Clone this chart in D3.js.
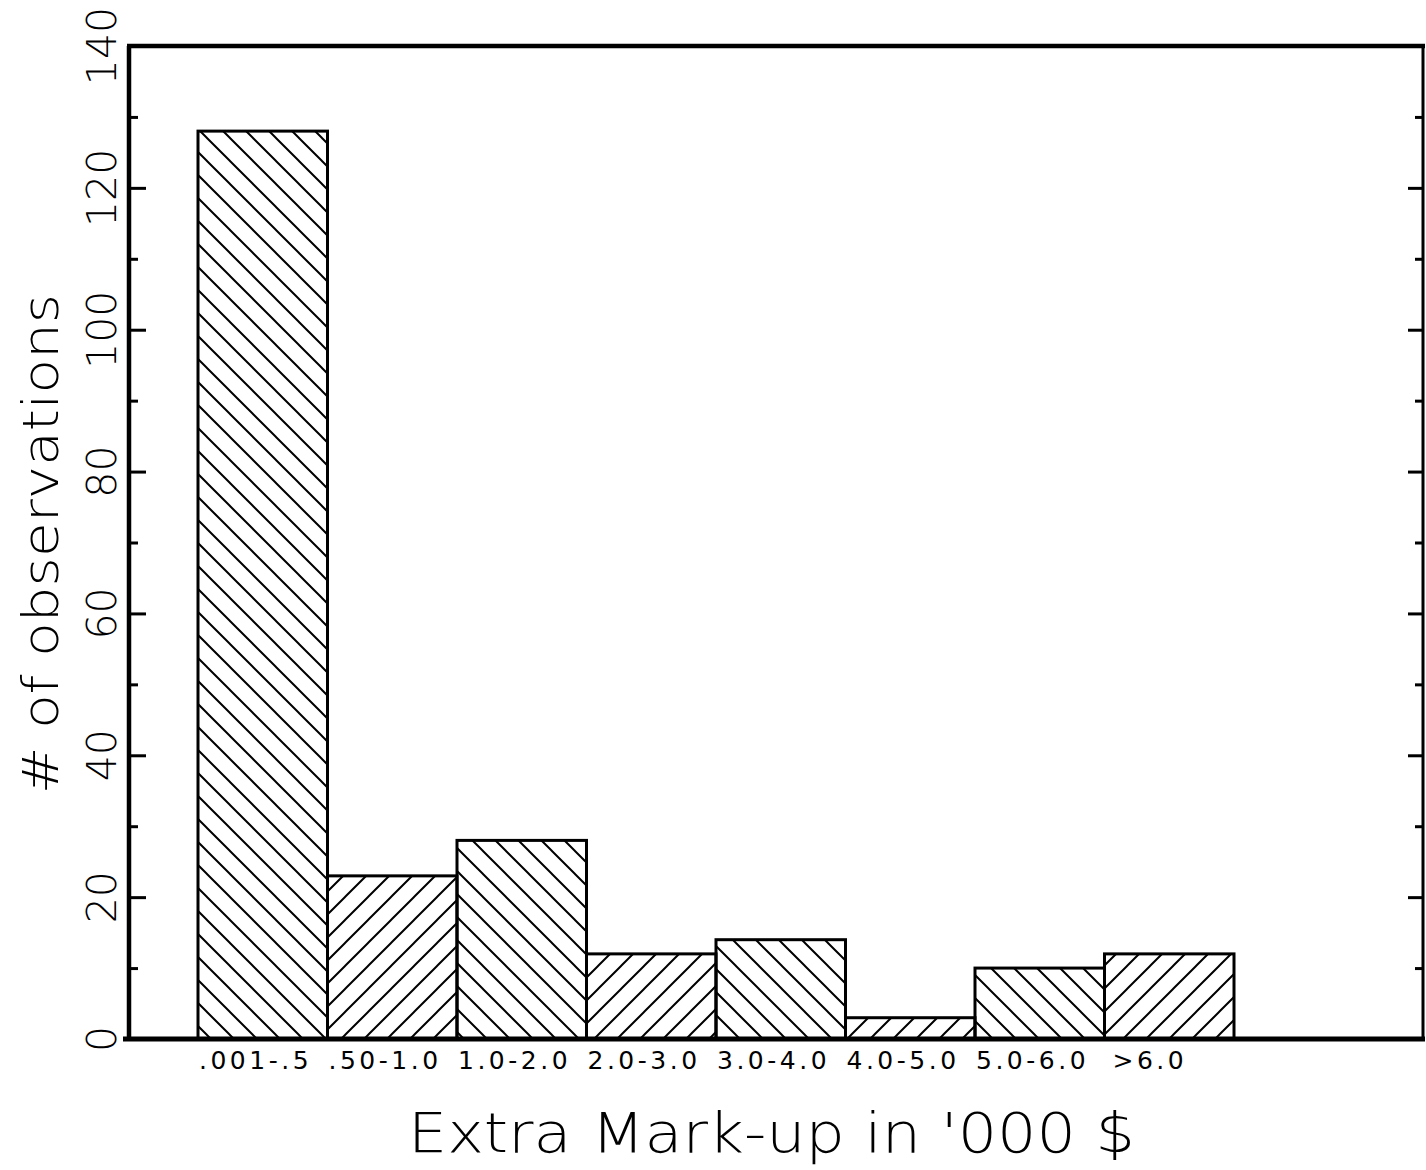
<!DOCTYPE html>
<html>
<head>
<meta charset="utf-8">
<script src="https://cdn.jsdelivr.net/npm/d3@7/dist/d3.min.js"></script>
<style>
  html, body { margin: 0; padding: 0; background: #fff; }
  svg { display: block; }
</style>
</head>
<body>
<svg id="chart" width="1426" height="1170"></svg>
<script>
// ---- data ----
const categories = [".001-.5", ".50-1.0", "1.0-2.0", "2.0-3.0", "3.0-4.0", "4.0-5.0", "5.0-6.0", ">6.0"];
const counts = [128, 23, 28, 12, 14, 3, 10, 12];
const hatchDirs = ["back", "fwd", "back", "fwd", "back", "fwd", "back", "fwd"];
const yMajorTicks = [0, 20, 40, 60, 80, 100, 120, 140];
const yMinorTicks = [10, 30, 50, 70, 90, 110, 130];
const xTitle = "Extra Mark-up in '000 $";
const yTitle = "# of observations";

// ---- layout ----
const W = 1426, H = 1170;
const frame = { left: 129, right: 1423, top: 46, bottom: 1039 };
const barStart = 198, barWidth = 129.5;

const svg = d3.select("#chart");
svg.append("rect").attr("width", W).attr("height", H).attr("fill", "#fff");

const x = d3.scaleBand()
  .domain(categories)
  .range([barStart, barStart + barWidth * categories.length])
  .padding(0);

const y = d3.scaleLinear()
  .domain([0, 140])
  .range([frame.bottom, frame.top]);

// ---- hatch patterns ----
const s = 23;
const defs = svg.append("defs");
function addPattern(id, dir) {
  const p = defs.append("pattern")
    .attr("id", id)
    .attr("patternUnits", "userSpaceOnUse")
    .attr("width", s).attr("height", s);
  let d;
  if (dir === "back") {
    d = `M0,0 L${s},${s} M${-s/4},${3*s/4} L${s/4},${5*s/4} M${3*s/4},${-s/4} L${5*s/4},${s/4}`;
  } else {
    d = `M0,${s} L${s},0 M${-s/4},${s/4} L${s/4},${-s/4} M${3*s/4},${5*s/4} L${5*s/4},${3*s/4}`;
  }
  p.append("path").attr("d", d).attr("stroke", "#000").attr("stroke-width", 2).attr("fill", "none");
}
addPattern("hatch-back", "back");
addPattern("hatch-fwd", "fwd");

// ---- bars ----
const bars = categories.map((c, i) => ({ cat: c, v: counts[i], dir: hatchDirs[i] }));
svg.append("g").selectAll("rect")
  .data(bars)
  .join("rect")
  .attr("x", d => x(d.cat))
  .attr("y", d => y(d.v))
  .attr("width", x.bandwidth())
  .attr("height", d => y(0) - y(d.v))
  .attr("fill", d => `url(#hatch-${d.dir})`)
  .attr("stroke", "#000")
  .attr("stroke-width", 3);

// ---- frame ----
const fr = svg.append("g").attr("fill", "none").attr("stroke", "#000");
fr.append("line").attr("x1", frame.left - 2).attr("x2", frame.right + 2)
  .attr("y1", frame.top).attr("y2", frame.top).attr("stroke-width", 4.5);
fr.append("line").attr("x1", frame.left).attr("x2", frame.left)
  .attr("y1", frame.top).attr("y2", frame.bottom).attr("stroke-width", 4.5);
fr.append("line").attr("x1", frame.right).attr("x2", frame.right)
  .attr("y1", frame.top).attr("y2", frame.bottom).attr("stroke-width", 3);
fr.append("line").attr("x1", frame.left - 6).attr("x2", frame.right + 2)
  .attr("y1", frame.bottom).attr("y2", frame.bottom).attr("stroke-width", 5);

// ---- y ticks (inward, both sides) ----
function tickAxis(gen, xpos, values, size) {
  const g = svg.append("g").attr("transform", `translate(${xpos},0)`)
    .call(gen(y).tickValues(values).tickSize(size).tickFormat(""));
  g.select(".domain").remove();
  g.selectAll(".tick line").attr("stroke", "#000").attr("stroke-width", 3);
  return g;
}
const innerMajor = yMajorTicks.filter(v => v > 0 && v < 140);
tickAxis(d3.axisLeft, frame.left, innerMajor, -17);
tickAxis(d3.axisLeft, frame.left, yMinorTicks, -9);
tickAxis(d3.axisRight, frame.right, innerMajor, -15);
tickAxis(d3.axisRight, frame.right, yMinorTicks, -8);

// ---- y tick labels (rotated) ----
svg.append("g").selectAll("text")
  .data(yMajorTicks)
  .join("text")
  .attr("transform", d => `translate(116,${y(d)}) rotate(-90)`)
  .attr("text-anchor", "middle")
  .attr("font-family", "DejaVu Sans, sans-serif")
  .attr("font-weight", 200)
  .attr("font-size", 41)
  .attr("fill", "#000")
  .text(d => d);

// ---- y title ----
svg.append("text")
  .attr("transform", `translate(58,${(293 + 795) / 2}) rotate(-90)`)
  .attr("text-anchor", "middle")
  .attr("font-family", "DejaVu Sans, sans-serif")
  .attr("font-weight", 200)
  .attr("font-size", 50)
  .attr("textLength", 500)
  .attr("lengthAdjust", "spacingAndGlyphs")
  .attr("fill", "#000")
  .text(yTitle);

// ---- x category labels ----
svg.append("g").selectAll("text")
  .data(categories)
  .join("text")
  .attr("x", d => x(d) + (d.startsWith(">") ? 8 : 1))
  .attr("y", 1069)
  .attr("font-family", "DejaVu Sans, sans-serif")
  .attr("font-size", 25)
  .attr("letter-spacing", 3.5)
  .attr("fill", "#000")
  .text(d => d);

// ---- x title ----
svg.append("text")
  .attr("x", 408)
  .attr("y", 1152)
  .attr("font-family", "DejaVu Sans, sans-serif")
  .attr("font-weight", 200)
  .attr("font-size", 56)
  .attr("textLength", 727)
  .attr("lengthAdjust", "spacingAndGlyphs")
  .attr("fill", "#000")
  .text(xTitle);
</script>
</body>
</html>
